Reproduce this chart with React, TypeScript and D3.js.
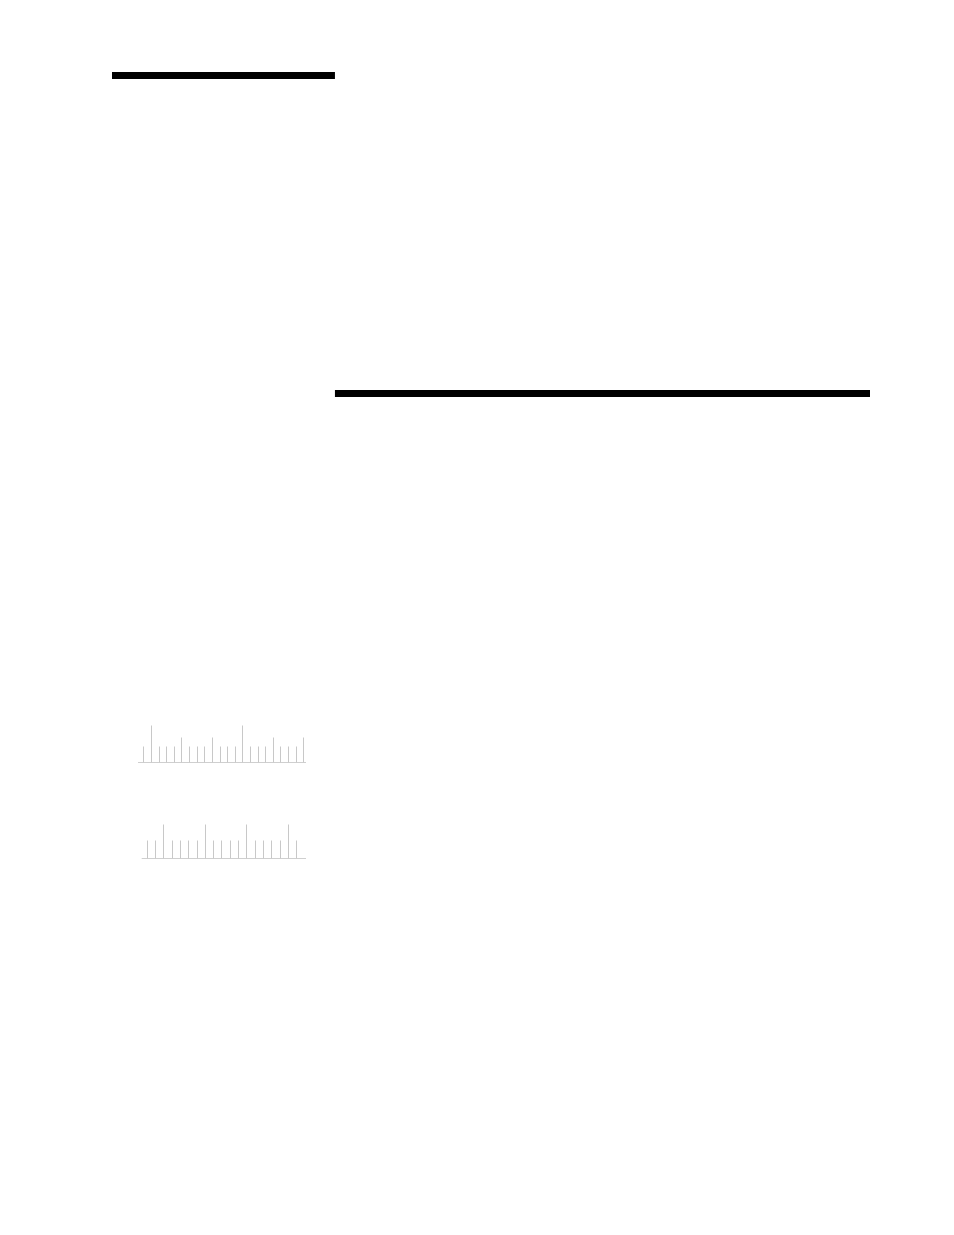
import React, { useEffect, useRef } from 'react';
import * as d3 from 'd3';

// step series: each level holds from its start to the next start
const stepStarts = [0, 10, 34];
const stepLevels = [100, 0];

// two tick strips, one entry per tick: s = short, m = medium, t = tall
const strip1Ticks = ['s', 't', 's', 's', 's', 'm', 's', 's', 's', 'm', 's', 's', 's', 't', 's', 's', 's', 'm', 's', 's', 's', 'm'];
const strip2Ticks = ['s', 's', 't', 's', 's', 's', 's', 't', 's', 's', 's', 's', 't', 's', 's', 's', 's', 't', 's'];

const W = 954;
const H = 1235;

const App: React.FC = () => {
  const svgRef = useRef<SVGSVGElement>(null);

  useEffect(() => {
    if (!svgRef.current) return;
    const svg = d3.select(svgRef.current);
    svg.selectAll('*').remove();

    // --- step line ---
    const x = d3.scaleLinear().domain([0, 34]).range([112, 870]);
    const y = d3.scaleLinear().domain([0, 100]).range([393.5, 75.5]);

    const segs = stepLevels.map((v, i) => ({ x0: stepStarts[i], x1: stepStarts[i + 1], v }));
    svg.append('g')
      .selectAll('rect')
      .data(segs)
      .join('rect')
      .attr('x', d => x(d.x0))
      .attr('width', d => x(d.x1) - x(d.x0))
      .attr('y', d => y(d.v) - 3.5)
      .attr('height', 7)
      .attr('fill', '#000');

    // --- tick strips ---
    const drawStrip = (ticks: string[], x0: number, x1: number, lo: number, hi: number, base: number, sizes: Record<string, number>) => {
      const sx = d3.scaleLinear().domain([lo, hi]).range([x0, x1]);
      const g = svg.append('g');
      g.append('line')
        .attr('x1', x0).attr('x2', x1)
        .attr('y1', base).attr('y2', base)
        .attr('stroke', '#cfcfcf').attr('stroke-width', 1);
      g.selectAll('line.tick')
        .data(ticks)
        .join('line')
        .attr('class', 'tick')
        .attr('x1', (_, i) => Math.round(sx(i)) + 0.5)
        .attr('x2', (_, i) => Math.round(sx(i)) + 0.5)
        .attr('y1', base)
        .attr('y2', d => base - sizes[d])
        .attr('stroke', '#c8c8c8')
        .attr('stroke-width', 1);
    };

    drawStrip(strip1Ticks, 138, 306, -0.7, 21.35, 762.5, { s: 16, m: 25, t: 37 });
    drawStrip(strip2Ticks, 141.7, 306, -0.6, 19.17, 858.5, { s: 18, t: 34 });
  }, []);

  return (
    <svg
      ref={svgRef}
      width={W}
      height={H}
      style={{ position: 'absolute', left: 0, top: 0, background: '#fff', display: 'block' }}
    />
  );
};

export default App;
